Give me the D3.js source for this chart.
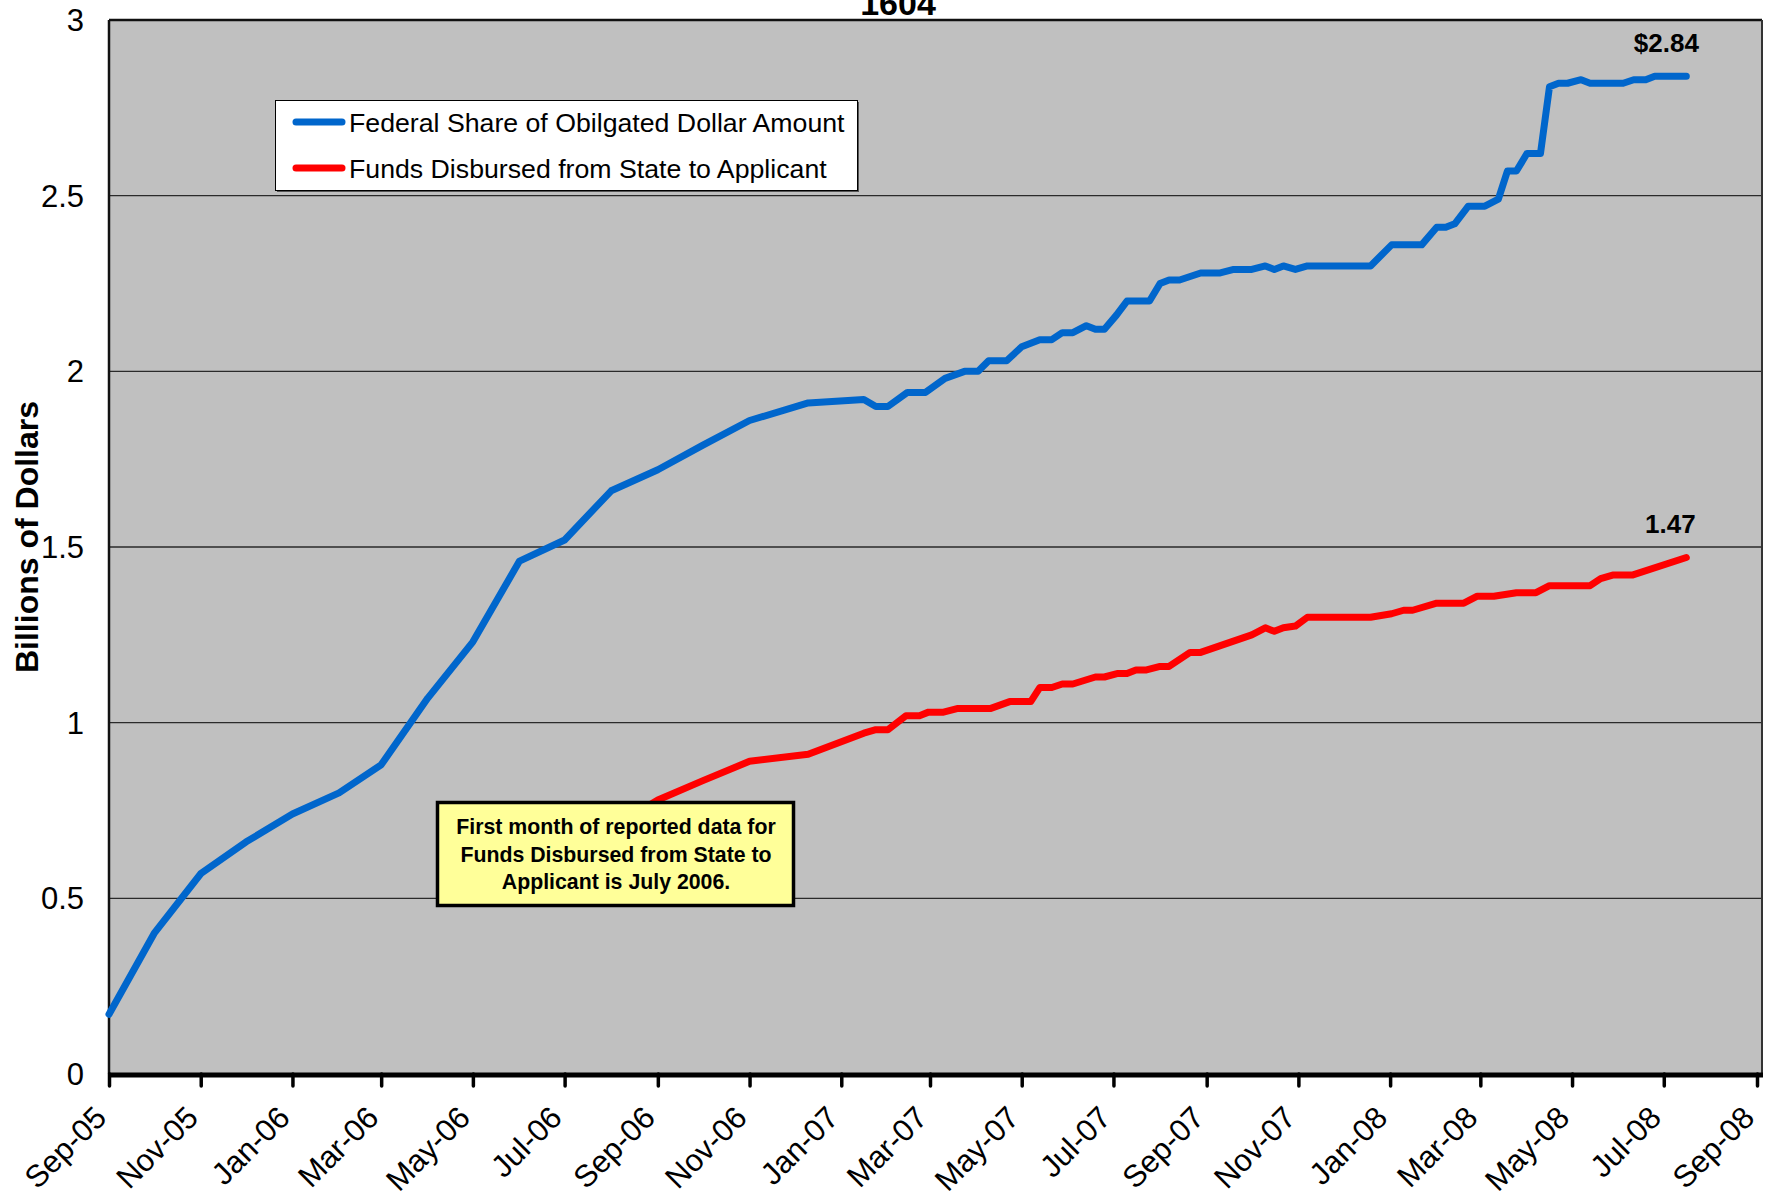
<!DOCTYPE html>
<html>
<head>
<meta charset="utf-8">
<script src="https://cdn.jsdelivr.net/npm/d3@7"></script>
<style>
  html, body { margin: 0; padding: 0; background: #fff; }
  svg { display: block; font-family: "Liberation Sans", Arial, sans-serif; }
</style>
</head>
<body>
<svg id="chart" width="1765" height="1202"></svg>
<script>
// ---------------- DATA ----------------
const fedDates = [
  "2005-09-01","2005-10-01","2005-11-01","2005-12-01","2006-01-01","2006-02-01","2006-03-01",
  "2006-04-01","2006-05-01","2006-06-01","2006-07-01","2006-08-01","2006-09-01","2006-10-01",
  "2006-11-01","2006-12-10","2007-01-16","2007-01-24","2007-02-01","2007-02-14","2007-02-26",
  "2007-03-11","2007-03-24","2007-04-02","2007-04-09","2007-04-21","2007-05-01","2007-05-07",
  "2007-05-13","2007-05-21","2007-05-28","2007-06-04","2007-06-13","2007-06-19","2007-06-25",
  "2007-07-03","2007-07-10","2007-07-25","2007-08-01","2007-08-07","2007-08-14","2007-08-28",
  "2007-09-10","2007-09-19","2007-10-01","2007-10-10","2007-10-16","2007-10-22","2007-10-30",
  "2007-11-07","2007-12-19","2008-01-02","2008-01-22","2008-02-01","2008-02-07","2008-02-13",
  "2008-02-22","2008-03-04","2008-03-13","2008-03-19","2008-03-25","2008-04-01","2008-04-10",
  "2008-04-16","2008-04-22","2008-04-28","2008-05-07","2008-05-13","2008-06-04","2008-06-11",
  "2008-06-19","2008-06-25","2008-07-16"
];
const fedValues = [
  0.17,0.40,0.57,0.66,0.74,0.80,0.88,
  1.07,1.23,1.46,1.52,1.66,1.72,1.79,
  1.86,1.91,1.92,1.90,1.90,1.94,1.94,
  1.98,2.00,2.00,2.03,2.03,2.07,2.08,
  2.09,2.09,2.11,2.11,2.13,2.12,2.12,
  2.16,2.20,2.20,2.25,2.26,2.26,2.28,
  2.28,2.29,2.29,2.30,2.29,2.30,2.29,
  2.30,2.30,2.36,2.36,2.41,2.41,2.42,
  2.47,2.47,2.49,2.57,2.57,2.62,2.62,
  2.81,2.82,2.82,2.83,2.82,2.82,2.83,
  2.83,2.84,2.84
];

const disbDates = [
  "2006-07-01","2006-08-01","2006-09-01","2006-10-01","2006-11-01","2006-12-10","2007-01-16",
  "2007-01-24","2007-02-01","2007-02-13","2007-02-22","2007-02-28","2007-03-10","2007-03-19",
  "2007-04-10","2007-04-23","2007-05-07","2007-05-13","2007-05-21","2007-05-28","2007-06-04",
  "2007-06-19","2007-06-25","2007-07-04","2007-07-10","2007-07-16","2007-07-23","2007-08-01",
  "2007-08-07","2007-08-21","2007-08-28","2007-10-01","2007-10-10","2007-10-16","2007-10-22",
  "2007-10-30","2007-11-07","2007-12-19","2008-01-02","2008-01-10","2008-01-16","2008-02-01",
  "2008-02-19","2008-02-28","2008-03-10","2008-03-25","2008-04-07","2008-04-16","2008-05-13",
  "2008-05-20","2008-05-28","2008-06-10","2008-07-16"
];
const disbValues = [
  0.60,0.70,0.78,0.835,0.89,0.91,0.97,
  0.98,0.98,1.02,1.02,1.03,1.03,1.04,
  1.04,1.06,1.06,1.10,1.10,1.11,1.11,
  1.13,1.13,1.14,1.14,1.15,1.15,1.16,
  1.16,1.20,1.20,1.25,1.27,1.26,1.27,
  1.275,1.30,1.30,1.31,1.32,1.32,1.34,
  1.34,1.36,1.36,1.37,1.37,1.39,1.39,
  1.41,1.42,1.42,1.47
];

const seriesNames = ["Federal Share of Obilgated Dollar Amount", "Funds Disbursed from State to Applicant"];
const yTicks = [0, 0.5, 1, 1.5, 2, 2.5, 3];
const xDomain = ["2005-09-01", "2008-09-01"];
const chartTitle = "1604";
const yTitle = "Billions of Dollars";
const endLabels = ["$2.84", "1.47"];
const noteLines = ["First month of reported data for", "Funds Disbursed from State to", "Applicant is July 2006."];

// ---------------- LAYOUT ----------------
const parse = d3.timeParse("%Y-%m-%d");
const svg = d3.select("#chart");
const L = 109, R = 1762, T = 20, B = 1074;
const font = '"Liberation Sans", Arial, sans-serif';

const x = d3.scaleTime().domain(xDomain.map(parse)).range([L, 1757]);
const y = d3.scaleLinear().domain([0, 3]).range([B, T]);

const fed = fedDates.map((d, i) => ({ date: parse(d), value: fedValues[i] }));
const disb = disbDates.map((d, i) => ({ date: parse(d), value: disbValues[i] }));

// plot background
svg.append("rect").attr("x", L).attr("y", T).attr("width", R - L).attr("height", B - T)
  .attr("fill", "#c0c0c0");

// gridlines
svg.append("g").selectAll("line").data(yTicks.filter(v => v > 0 && v < 3)).join("line")
  .attr("x1", L).attr("x2", R).attr("y1", d => y(d)).attr("y2", d => y(d))
  .attr("stroke", "#2a2a2a").attr("stroke-width", 1.3);

// border
svg.append("line").attr("x1", L).attr("x2", R).attr("y1", T).attr("y2", T).attr("stroke", "#111").attr("stroke-width", 2.5);
svg.append("line").attr("x1", R).attr("x2", R).attr("y1", T).attr("y2", B).attr("stroke", "#333").attr("stroke-width", 2);
svg.append("line").attr("x1", L).attr("x2", L).attr("y1", T).attr("y2", B).attr("stroke", "#111").attr("stroke-width", 2.5);

// y axis labels
svg.append("g").selectAll("text").data(yTicks).join("text")
  .attr("x", 84).attr("y", d => y(d)).attr("dy", "0.36em")
  .attr("text-anchor", "end").attr("font-size", 31).attr("font-family", font).attr("fill", "#000")
  .text(d => d3.format("")(d));

// y title
svg.append("text")
  .attr("transform", `translate(38, 537) rotate(-90)`)
  .attr("text-anchor", "middle").attr("font-size", 32).attr("font-weight", "bold").attr("font-family", font)
  .text(yTitle);

// x axis
const xAxis = d3.axisBottom(x).ticks(d3.timeMonth.every(2)).tickFormat(d3.timeFormat("%b-%y")).tickSize(12).tickSizeOuter(0);
const gx = svg.append("g").attr("transform", `translate(0, ${B})`).call(xAxis);
gx.select(".domain").remove();
gx.selectAll(".tick line").attr("stroke", "#000").attr("stroke-width", 3.5).attr("stroke-linecap", "round");
gx.selectAll(".tick text")
  .attr("font-size", 31).attr("font-family", font).attr("fill", "#000")
  .attr("text-anchor", "end")
  .attr("x", -9).attr("y", 38).attr("dy", "0.35em")
  .attr("transform", "rotate(-45 -9 38)");
svg.append("line").attr("x1", L - 1).attr("x2", R + 1).attr("y1", B + 1).attr("y2", B + 1)
  .attr("stroke", "#000").attr("stroke-width", 5);

// lines
const line = d3.line().x(d => x(d.date)).y(d => y(d.value));
svg.append("path").datum(disb).attr("d", line).attr("fill", "none")
  .attr("stroke", "#ff0000").attr("stroke-width", 7).attr("stroke-linejoin", "round").attr("stroke-linecap", "round");
svg.append("path").datum(fed).attr("d", line).attr("fill", "none")
  .attr("stroke", "#0066cc").attr("stroke-width", 7).attr("stroke-linejoin", "round").attr("stroke-linecap", "round");

// end labels
const lastFed = fed[fed.length - 1], lastDisb = disb[disb.length - 1];
svg.append("text").attr("x", x(lastFed.date) - 20).attr("y", y(lastFed.value) - 24)
  .attr("text-anchor", "middle").attr("font-size", 26).attr("font-weight", "bold").attr("font-family", font)
  .text(endLabels[0]);
svg.append("text").attr("x", x(lastDisb.date) - 16).attr("y", y(lastDisb.value) - 25)
  .attr("text-anchor", "middle").attr("font-size", 26).attr("font-weight", "bold").attr("font-family", font)
  .text(endLabels[1]);

// title (cut off at top, as in the original)
svg.append("text").attr("x", 898).attr("y", 15).attr("text-anchor", "middle")
  .attr("font-size", 34).attr("font-weight", "bold").attr("font-family", font).text(chartTitle);

// legend
const lg = svg.append("g");
lg.append("rect").attr("x", 277).attr("y", 102).attr("width", 582).attr("height", 90).attr("fill", "#555");
lg.append("rect").attr("x", 275.5).attr("y", 100.5).attr("width", 582).attr("height", 90)
  .attr("fill", "#fff").attr("stroke", "#000").attr("stroke-width", 1);
const colors = ["#0066cc", "#ff0000"];
seriesNames.forEach((name, i) => {
  const cy = 122 + i * 46;
  lg.append("line").attr("x1", 296).attr("x2", 342).attr("y1", cy).attr("y2", cy)
    .attr("stroke", colors[i]).attr("stroke-width", 7).attr("stroke-linecap", "round");
  lg.append("text").attr("x", 349).attr("y", cy).attr("dy", "0.36em")
    .attr("font-size", 26.7).attr("font-family", font).text(name);
});

// annotation box
const nb = svg.append("g");
nb.append("rect").attr("x", 437.5).attr("y", 802.5).attr("width", 356).attr("height", 103)
  .attr("fill", "#ffff99").attr("stroke", "#000").attr("stroke-width", 3.5);
noteLines.forEach((t, i) => {
  nb.append("text").attr("x", 616).attr("y", 834 + i * 27.5).attr("text-anchor", "middle")
    .attr("font-size", 21.3).attr("font-weight", "bold").attr("font-family", font).text(t);
});
</script>
</body>
</html>
